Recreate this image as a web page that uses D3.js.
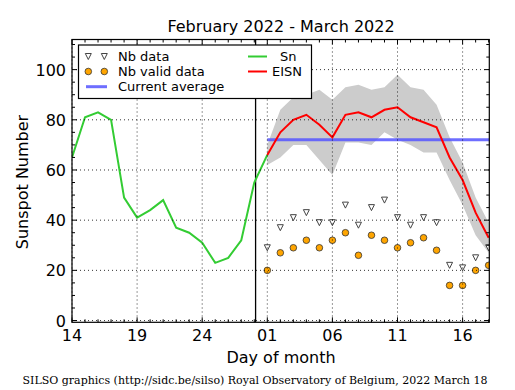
<!DOCTYPE html>
<html><head><meta charset="utf-8">
<script src="https://cdn.jsdelivr.net/npm/d3@7"></script>
<style>body{margin:0;background:#fff}svg{display:block}</style>
</head><body>
<script>
// ---- data ----
const xTickDays = [0, 5, 10, 15, 20, 25, 30];
const xTickLabels = ["14", "19", "24", "01", "06", "11", "16"];
const yTicks = [0, 20, 40, 60, 80, 100];
// Sn: Feb 14 .. Mar 1 (day 0..15)
const snDays = [0,1,2,3,4,5,6,7,8,9,10,11,12,13,14,15];
const snValues = [65, 81, 83, 80, 49, 41, 44, 48, 37, 35, 31, 23, 25, 32, 55, 66];
// Mar 1 .. Mar 18 (day 15..32)
const marDays = [15,16,17,18,19,20,21,22,23,24,25,26,27,28,29,30,31,32];
const eisn = [66, 75, 80, 82, 78, 73, 82, 83, 81, 84, 85, 81, 79, 77, 65, 56, 43, 33];
const eisnUpper = [70, 84, 89, 90, 92, 88, 93, 94, 92, 93, 98, 93, 92, 86, 73, 63, 49, 39];
const eisnLower = [62, 65, 70, 70, 64, 58, 71, 71, 70, 75, 72, 70, 67, 67, 56, 46, 34, 27];
const nbData = [29, 37, 41, 43, 39, 39, 46, 38, 45, 48, 41, 38, 41, 39, 22, 21, 25, 29];
const nbValid = [20, 27, 29, 32, 29, 32, 35, 26, 34, 32, 29, 31, 33, 28, 14, 14, 20, 22];
const currentAverage = 72;
const currentAvgStart = 15;
const markerDay = 14.1;

const W = 515, H = 390;
const m = {left: 72, right: 489.3, top: 39.5, bottom: 322.3};
const svg = d3.select("body").append("svg").attr("width", W).attr("height", H)
  .style("font-family", "DejaVu Sans, sans-serif");

const x = d3.scaleLinear().domain([0, 32.05]).range([m.left, m.right]);
const y = d3.scaleLinear().domain([-0.7, 112]).range([m.bottom, m.top]);

svg.append("defs").append("clipPath").attr("id", "clip").append("rect")
  .attr("x", m.left).attr("y", m.top).attr("width", m.right - m.left).attr("height", m.bottom - m.top);

const plot = svg.append("g").attr("clip-path", "url(#clip)");

// band
const band = marDays.map((d, i) => ({d, lo: eisnLower[i], hi: eisnUpper[i]}));
plot.append("path").datum(band)
  .attr("d", d3.area().x(p => x(p.d)).y0(p => y(p.lo)).y1(p => y(p.hi)))
  .attr("fill", "#cccccc");

// grid
const grid = svg.append("g");
xTickDays.forEach(d => grid.append("line").attr("x1", x(d)).attr("x2", x(d)).attr("y1", m.top).attr("y2", m.bottom)
  .attr("stroke", "#000").attr("stroke-width", 0.8).attr("stroke-dasharray", "1,3"));
yTicks.forEach(v => grid.append("line").attr("x1", m.left).attr("x2", m.right).attr("y1", y(v)).attr("y2", y(v))
  .attr("stroke", "#000").attr("stroke-width", 0.8).attr("stroke-dasharray", "1,3"));

// vertical marker
plot.append("line").attr("x1", x(markerDay)).attr("x2", x(markerDay)).attr("y1", m.top).attr("y2", m.bottom)
  .attr("stroke", "#000").attr("stroke-width", 1.3);

// current average
plot.append("line").attr("x1", x(currentAvgStart)).attr("x2", m.right).attr("y1", y(currentAverage)).attr("y2", y(currentAverage))
  .attr("stroke", "#5555ff").attr("stroke-opacity", 0.85).attr("stroke-width", 3);

// Sn line
plot.append("path").datum(snDays.map((d, i) => [d, snValues[i]]))
  .attr("d", d3.line().x(p => x(p[0])).y(p => y(p[1])))
  .attr("fill", "none").attr("stroke", "#33cc33").attr("stroke-width", 2);

// EISN line
plot.append("path").datum(marDays.map((d, i) => [d, eisn[i]]))
  .attr("d", d3.line().x(p => x(p[0])).y(p => y(p[1])))
  .attr("fill", "none").attr("stroke", "#ff0000").attr("stroke-width", 2);

// triangle marker
const triPath = (cx, cy, s) => `M${cx - s},${cy - s}L${cx + s},${cy - s}L${cx},${cy + s}Z`;
marDays.forEach((d, i) => {
  plot.append("path").attr("d", triPath(x(d), y(nbData[i]), 3))
    .attr("fill", "#ffffff").attr("stroke", "#444").attr("stroke-width", 1);
});
marDays.forEach((d, i) => {
  plot.append("circle").attr("cx", x(d)).attr("cy", y(nbValid[i])).attr("r", 3.3)
    .attr("fill", "#ffa500").attr("stroke", "#333").attr("stroke-width", 0.8);
});

// ticks
const tk = svg.append("g").attr("stroke", "#000").attr("stroke-width", 1);
for (let d = 0; d <= 32; d++) {
  const major = xTickDays.includes(d);
  const L = major ? 5 : 3;
  tk.append("line").attr("x1", x(d)).attr("x2", x(d)).attr("y1", m.bottom).attr("y2", m.bottom - L);
  tk.append("line").attr("x1", x(d)).attr("x2", x(d)).attr("y1", m.top).attr("y2", m.top + L);
}
for (let v = 0; v <= 110; v += 5) {
  const major = v % 20 === 0;
  const L = major ? 5 : 3;
  tk.append("line").attr("x1", m.left).attr("x2", m.left + L).attr("y1", y(v)).attr("y2", y(v));
  tk.append("line").attr("x1", m.right).attr("x2", m.right - L).attr("y1", y(v)).attr("y2", y(v));
}

// frame
svg.append("rect").attr("x", m.left).attr("y", m.top).attr("width", m.right - m.left).attr("height", m.bottom - m.top)
  .attr("fill", "none").attr("stroke", "#000").attr("stroke-width", 1.2);

// tick labels
xTickDays.forEach((d, i) => svg.append("text").attr("x", x(d)).attr("y", 341).attr("text-anchor", "middle")
  .attr("font-size", 16).text(xTickLabels[i]));
yTicks.forEach(v => svg.append("text").attr("x", 66).attr("y", y(v) + 6).attr("text-anchor", "end")
  .attr("font-size", 16).text(v));

// titles
svg.append("text").attr("x", 281).attr("y", 32).attr("text-anchor", "middle").attr("font-size", 16)
  .text("February 2022 - March 2022");
svg.append("text").attr("x", 281).attr("y", 363).attr("text-anchor", "middle").attr("font-size", 16)
  .text("Day of month");
svg.append("text").attr("transform", "translate(28,182) rotate(-90)").attr("text-anchor", "middle").attr("font-size", 16)
  .text("Sunspot Number");
svg.append("text").attr("x", 255).attr("y", 384).attr("text-anchor", "middle").attr("font-size", 11)
  .style("font-family", "DejaVu Serif, serif").text("SILSO graphics (http://sidc.be/silso) Royal Observatory of Belgium, 2022 March 18");

// legend
const lg = svg.append("g");
lg.append("rect").attr("x", 78.5).attr("y", 45).attr("width", 233).attr("height", 53.5)
  .attr("fill", "#fff").attr("stroke", "#000").attr("stroke-width", 1.2);
const lfs = 13;
[88.3, 104.3].forEach(cx => lg.append("path").attr("d", triPath(cx, 56.5, 3)).attr("fill", "#fff").attr("stroke", "#444"));
lg.append("text").attr("x", 118).attr("y", 61).attr("font-size", lfs).text("Nb data");
[88.3, 104.3].forEach(cx => lg.append("circle").attr("cx", cx).attr("cy", 71.5).attr("r", 3.3)
  .attr("fill", "#ffa500").attr("stroke", "#333").attr("stroke-width", 0.8));
lg.append("text").attr("x", 118).attr("y", 76).attr("font-size", lfs).text("Nb valid data");
lg.append("line").attr("x1", 86).attr("x2", 107).attr("y1", 86.7).attr("y2", 86.7)
  .attr("stroke", "#5555ff").attr("stroke-opacity", 0.85).attr("stroke-width", 3);
lg.append("text").attr("x", 118).attr("y", 91).attr("font-size", lfs).text("Current average");
lg.append("line").attr("x1", 248).attr("x2", 267).attr("y1", 56.5).attr("y2", 56.5).attr("stroke", "#33cc33").attr("stroke-width", 2);
lg.append("text").attr("x", 280).attr("y", 61).attr("font-size", lfs).text("Sn");
lg.append("line").attr("x1", 248).attr("x2", 267).attr("y1", 71.5).attr("y2", 71.5).attr("stroke", "#ff0000").attr("stroke-width", 2);
lg.append("text").attr("x", 272).attr("y", 76).attr("font-size", lfs).text("EISN");
</script>
</body></html>
